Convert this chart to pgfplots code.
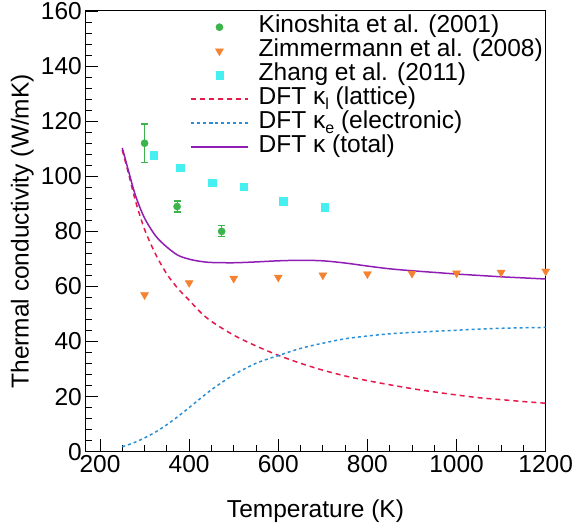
\documentclass[border=0pt]{standalone}
\usepackage{fontspec}
\setmainfont{Liberation Sans}
\usepackage{pgfplots}
\pgfplotsset{compat=1.18}
\definecolor{kgreen}{HTML}{3CB44B}
\definecolor{zorange}{HTML}{F58231}
\definecolor{zcyan}{HTML}{46F0F0}
\definecolor{latred}{HTML}{E6194B}
\definecolor{elblue}{HTML}{2A8FD6}
\definecolor{totpurple}{HTML}{911EB4}
\newcommand{\sub}[1]{\raisebox{-0.4ex}{\fontsize{16bp}{16bp}\selectfont #1}}
\newcommand{\bigfont}{\fontsize{24.5bp}{29bp}\selectfont}

\begin{document}
\begin{tikzpicture}
\begin{axis}[
    width=460.4bp, height=440.7bp, scale only axis,
    xmin=167, xmax=1200, ymin=0, ymax=160,
    xtick={200,400,...,1200}, minor x tick num=3,
    ytick={0,20,...,160}, minor y tick num=4,
    tick align=inside, tick pos=left,
    major tick length=13bp, minor tick length=7bp,
    tick style={black, line width=0.8bp},
    axis line style={line width=1bp},
    /pgf/number format/assume math mode=true,
    /pgf/number format/1000 sep={},
    tick label style={font=\bigfont},
    label style={font=\bigfont},
    xlabel={Temperature (K)},
    ylabel={Thermal conductivity (W/mK)},
    xlabel style={at={(axis description cs:0.5,-0.136)}, anchor=center},
    ylabel style={at={(axis description cs:-0.137,0.5)}, anchor=center},
    legend cell align=left,
    legend style={draw=none, fill=none, font=\bigfont,
        at={(axis description cs:0.2274,1)}, anchor=north west, yshift=-4bp,
        inner sep=0pt, row sep=0pt, column sep=8bp,
        nodes={inner ysep=0pt, text height=17.5bp, text depth=6.5bp}},
    legend image code/.code={\draw[mark repeat=2,mark phase=2,#1]
        plot coordinates {(0bp,0bp) (28.5bp,0bp) (57bp,0bp)};},
]
% Kinoshita et al. (2001)
\addplot[only marks, mark=*, color=kgreen, mark size=3.6bp,
    error bars/.cd, y dir=both, y explicit,
    error bar style={line width=1.2bp, kgreen},
    error mark options={rotate=90, mark size=3.5bp, line width=1.2bp, kgreen}]
    coordinates {(300,112) +- (0,7) (373,89) +- (0,2) (473,80) +- (0,2)};
\addlegendentry{Kinoshita et al. (2001)}
% Zimmermann et al. (2008)
\addplot[only marks, mark=triangle*, color=zorange, mark size=4.6bp,
    mark options={rotate=180}]
    coordinates {(300,56.9) (400,61.3) (500,62.9) (600,63.3) (700,64.1)
                 (800,64.5) (900,64.7) (1000,64.8) (1100,65.1) (1200,65.5)};
\addlegendentry{Zimmermann et al. (2008)}
% Zhang et al. (2011)
\addplot[only marks, mark=square*, color=zcyan, mark size=3.7bp]
    coordinates {(320,107.7) (380,103.2) (452,97.7) (522,96.2) (611,90.9) (704,88.8)};
\addlegendentry{Zhang et al. (2011)}
% DFT lattice
\addplot[no marks, smooth, color=latred, line width=1.5bp, dash pattern=on 5bp off 4bp]
    coordinates {(250,109.5) (265,100.3) (280,90.8) (300,80.7) (325,71.6) (350,64.5)
                 (375,59.2) (400,55.0) (425,50.7) (450,47.3) (500,42.3) (550,38.4)
                 (600,35.0) (650,32.1) (700,29.6) (750,27.5) (800,25.8) (850,24.3)
                 (900,22.9) (950,21.7) (1000,20.6) (1050,19.6) (1100,18.9) (1150,18.2)
                 (1200,17.6)};
\addlegendentry{DFT κ\sub{l} (lattice)}
% DFT electronic
\addplot[no marks, smooth, color=elblue, line width=1.5bp, dash pattern=on 3bp off 3bp]
    coordinates {(250,1.8) (275,3.2) (300,5.0) (325,7.2) (350,9.8) (375,12.8)
                 (400,16.0) (450,22.5) (500,27.9) (550,32.1) (600,34.9) (650,37.5)
                 (700,39.4) (750,41.0) (800,42.0) (850,42.8) (900,43.3) (950,43.7)
                 (1000,44.1) (1050,44.5) (1100,44.8) (1150,45.0) (1200,45.1)};
\addlegendentry{DFT κ\sub{e} (electronic)}
% DFT total
\addplot[no marks, smooth, color=totpurple, line width=1.5bp]
    coordinates {(250,110.3) (265,101.3) (280,92.8) (300,84.8) (325,78.3) (350,74.3)
                 (375,71.3) (400,69.9) (425,69.1) (450,68.7) (500,68.6) (550,68.9)
                 (600,69.3) (650,69.5) (700,69.3) (750,68.5) (800,67.4) (850,66.4)
                 (900,65.7) (950,65.1) (1000,64.5) (1050,64.0) (1100,63.5) (1150,63.1)
                 (1200,62.7)};
\addlegendentry{DFT κ (total)}
\end{axis}
\pgfresetboundingbox
\path[use as bounding box] (current axis.south west) ++(-85.3bp,-80.3bp) rectangle ++(573bp,532bp);
\end{tikzpicture}
\end{document}
